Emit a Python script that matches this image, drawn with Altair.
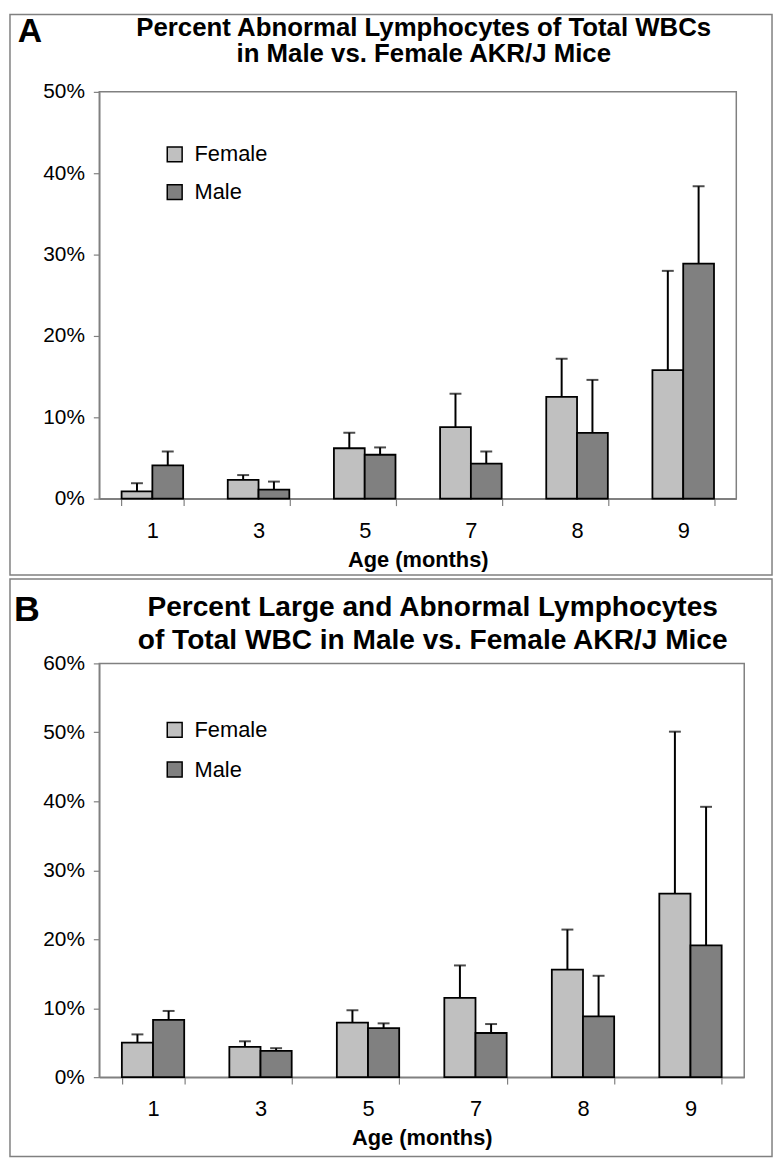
import altair as alt
import pandas as pd

# ---------------- data ----------------
ages = ["1", "3", "5", "7", "8", "9"]
sexes = ["Female", "Male"]
bar_colors = ["#C0C0C0", "#808080"]

# Panel A: percent abnormal lymphocytes (mean, +error)
a_female = [0.9, 2.3, 6.2, 8.8, 12.5, 15.8]
a_female_err = [1.0, 0.6, 1.9, 4.1, 4.7, 12.2]
a_male = [4.1, 1.1, 5.4, 4.3, 8.1, 28.9]
a_male_err = [1.7, 1.0, 0.9, 1.5, 6.5, 9.5]

# Panel B: percent large and abnormal lymphocytes (mean, +error)
b_female = [5.0, 4.4, 7.9, 11.5, 15.6, 26.6]
b_female_err = [1.2, 0.8, 1.8, 4.7, 5.8, 23.5]
b_male = [8.3, 3.8, 7.1, 6.4, 8.8, 19.1]
b_male_err = [1.3, 0.4, 0.7, 1.3, 5.9, 20.1]

a_letter = "A"
a_title = ["Percent Abnormal Lymphocytes of Total WBCs", "in Male vs. Female AKR/J Mice"]
b_letter = "B"
b_title = ["Percent Large and Abnormal Lymphocytes", "of Total WBC in Male vs. Female AKR/J Mice"]
x_title = "Age (months)"

FONT = "Liberation Sans"


def make_df(f, fe, m, me):
    rows = []
    for i, age in enumerate(ages):
        rows.append(dict(age=age, sex="Female", value=f[i], top=f[i] + fe[i]))
        rows.append(dict(age=age, sex="Male", value=m[i], top=m[i] + me[i]))
    return pd.DataFrame(rows)


one = pd.DataFrame({"k": [0]})


def txt(s, x, y, size, baseline):
    return alt.Chart(one).mark_text(font=FONT, fontSize=size, fontWeight="bold",
                                    align="center", baseline=baseline,
                                    color="black").encode(
        x=alt.value(x), y=alt.value(y), text=alt.value(s))


def panel(df, ymax, W, H, letter, letter_xy, letter_size, lines, title_x, title_ys, title_size,
          legend_xy, legend_pad, frame):
    x = alt.X("age:N", sort=ages,
              scale=alt.Scale(paddingInner=0.42, paddingOuter=0.21),
              axis=alt.Axis(title=x_title, labelAngle=0, tickBand="extent", tickSize=7,
                            labelPadding=15, titlePadding=8, labelFontSize=22,
                            titleFontSize=22, titleFontWeight="bold", titleFont=FONT,
                            titleColor="black"))
    y = alt.Y("value:Q", scale=alt.Scale(domain=[0, ymax], nice=False),
              axis=alt.Axis(values=list(range(0, ymax + 1, 10)),
                            labelExpr="datum.value + '%'", title=None,
                            tickSize=6, labelPadding=9, labelFontSize=21))
    xo = alt.XOffset("sex:N", sort=sexes, scale=alt.Scale(paddingInner=0, paddingOuter=0))
    base = alt.Chart(df)
    bars = base.mark_bar(stroke="black", strokeWidth=1.8).encode(
        x=x, xOffset=xo, y=y,
        color=alt.Color("sex:N", scale=alt.Scale(domain=sexes, range=bar_colors),
                        legend=alt.Legend(title=None, orient="none",
                                          legendX=legend_xy[0], legendY=legend_xy[1],
                                          direction="vertical", symbolType="square",
                                          symbolSize=225, symbolStrokeColor="black",
                                          symbolStrokeWidth=1.5, labelFontSize=22,
                                          labelFont=FONT, labelOffset=9,
                                          rowPadding=legend_pad, labelColor="black")))
    err = base.mark_rule(color="black", strokeWidth=2).encode(
        x=x, xOffset=xo, y="value:Q", y2="top:Q")
    caps = base.mark_tick(color="black", thickness=2, size=12).encode(
        x=x, xOffset=xo, y="top:Q")

    fx0, fx1, fy0, fy1 = frame
    frm = alt.Chart(one).mark_rect(fill="white", fillOpacity=0, stroke="#808080",
                                   strokeWidth=1.5).encode(
        x=alt.value(fx0), x2=alt.value(fx1), y=alt.value(fy0), y2=alt.value(fy1))
    let = txt(letter, letter_xy[0], letter_xy[1], letter_size, "top")
    t1 = txt(lines[0], title_x, title_ys[0], title_size, "top")
    t2 = txt(lines[1], title_x, title_ys[1], title_size, "top")
    return alt.layer(frm, bars, err, caps, let, t1, t2).properties(width=W, height=H)


pa = panel(make_df(a_female, a_female_err, a_male, a_male_err), 50, 642, 410,
           a_letter, (-70, -77), 34, a_title, 327, (-77, -51), 26,
           (65, 52), 16, (-90, 678, -78, 487))
pb = panel(make_df(b_female, b_female_err, b_male, b_male_err), 60, 650, 417,
           b_letter, (-73, -71), 36, b_title, 336, (-70, -37), 28.3,
           (65, 56), 18, (-90, 678, -85, 497))

chart = alt.vconcat(pa, pb, spacing=0).resolve_scale(
    x="independent", y="independent", color="independent", xOffset="independent"
).resolve_legend(color="independent").properties(
    padding=0, background="white"
).configure(font=FONT).configure_view(
    stroke="#808080", strokeWidth=1.5
).configure_axis(
    domainColor="#808080", domainWidth=1.5, tickColor="#808080", tickWidth=1.2,
    labelColor="black", labelFont=FONT, grid=False
)

chart.save("out.html", embed_options={"renderer": "svg", "actions": False})
